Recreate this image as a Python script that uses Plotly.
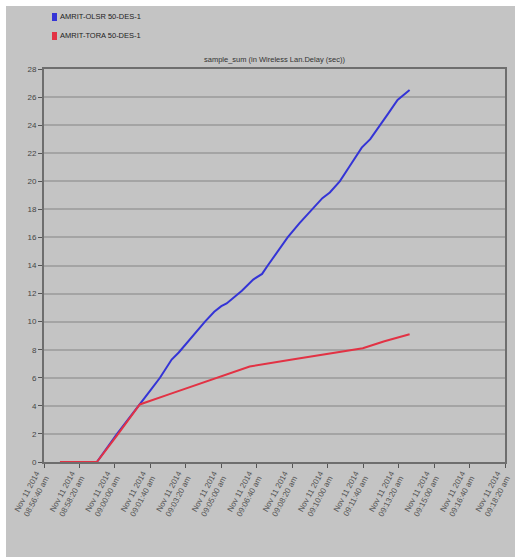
import datetime as dt
import plotly.graph_objects as go

# Simulation start and x-axis tick schedule (every 100 s)
start = dt.datetime(2014, 11, 11, 8, 56, 40)
tick_offsets = [0, 100, 200, 300, 400, 500, 600, 700, 800, 900, 1000, 1100, 1200, 1300]

# AMRIT-OLSR 50-DES-1: seconds after start, cumulative delay (sec)
olsr_t = [45, 149, 206, 268, 300, 327, 360, 380, 400, 430, 454, 480, 500, 515, 540,
          558, 590, 615, 631, 660, 687, 720, 755, 769, 785, 806, 834, 860, 885, 896,
          920, 946, 970, 997, 1031]
olsr_v = [0.0, 0.0, 2.0, 4.0, 5.1, 6.0, 7.3, 7.8, 8.4, 9.3, 10.0, 10.7, 11.1, 11.3, 11.8,
          12.2, 13.0, 13.4, 14.0, 15.0, 16.0, 17.0, 18.0, 18.4, 18.8, 19.2, 20.0, 21.0, 22.0, 22.4,
          23.0, 23.9, 24.8, 25.8, 26.5]

# AMRIT-TORA 50-DES-1
tora_t = [45, 149, 206, 270, 350, 450, 580, 700, 800, 899, 960, 1031]
tora_v = [0.0, 0.0, 1.9, 4.1, 4.8, 5.65, 6.8, 7.3, 7.7, 8.1, 8.6, 9.1]

series_names = ["AMRIT-OLSR 50-DES-1", "AMRIT-TORA 50-DES-1"]
series_colors = ["#3434d6", "#e23244"]
title_text = "sample_sum (in Wireless Lan.Delay (sec))"
y_ticks = list(range(0, 29, 2))


def to_time(offsets):
    return [start + dt.timedelta(seconds=s) for s in offsets]


def tick_label(d):
    return d.strftime("%b %d %Y").replace(" 0", " ") + "<br>" + d.strftime("%I:%M:%S").lstrip() + " am"


tick_times = to_time(tick_offsets)
tick_text = [tick_label(d) for d in tick_times]

font_family = "Liberation Sans Narrow, Arial Narrow, Liberation Sans, sans-serif"

fig = go.Figure()
fig.add_trace(go.Scatter(x=to_time(olsr_t), y=olsr_v, mode="lines", name=series_names[0],
                         line=dict(color=series_colors[0], width=2), showlegend=False))
fig.add_trace(go.Scatter(x=to_time(tora_t), y=tora_v, mode="lines", name=series_names[1],
                         line=dict(color=series_colors[1], width=2), showlegend=False))

W, H = 517, 560
ml, mr, mt, mb = 44, 12, 69, 98
pw, ph = W - ml - mr, H - mt - mb


def px(x):
    return (x - ml) / pw


def py(y):
    return (H - mb - y) / ph


shapes = [
    # grey window panel behind the chart
    dict(type="rect", xref="paper", yref="paper", x0=px(6), x1=px(515), y0=py(557), y1=py(6),
         fillcolor="#c4c4c4", line=dict(width=0), layer="below"),
]
annotations = [
    dict(text=title_text, xref="paper", yref="paper", x=0.5, y=py(66), xanchor="center",
         yanchor="bottom", showarrow=False, font=dict(family=font_family, size=7.5, color="#333")),
]
# legend swatches and labels
for i, (name, col) in enumerate(zip(series_names, series_colors)):
    yc = 17 + 19 * i
    shapes.append(dict(type="rect", xref="paper", yref="paper", x0=px(52), x1=px(57),
                       y0=py(yc + 4), y1=py(yc - 4), fillcolor=col, line=dict(width=0)))
    annotations.append(dict(text=name, xref="paper", yref="paper", x=px(58), y=py(yc),
                            xanchor="left", yanchor="middle", showarrow=False,
                            font=dict(family=font_family, size=7.5, color="#222")))

fig.update_layout(
    width=W, height=H,
    margin=dict(l=ml, r=mr, t=mt, b=mb, autoexpand=False),
    paper_bgcolor="white",
    plot_bgcolor="#efefef",
    shapes=shapes,
    annotations=annotations,
    showlegend=False,
    font=dict(family=font_family, size=8, color="#444"),
)
fig.update_xaxes(
    range=[tick_times[0], tick_times[-1]],
    tickvals=tick_times, ticktext=tick_text, tickangle=-62,
    ticklabeloverflow="allow", automargin=False, ticklabelshift=-3,
    showgrid=False, showline=True, linecolor="#6e6e6e", linewidth=2, mirror=True,
    ticks="outside", ticklen=4, tickcolor="#555",
    tickfont=dict(family=font_family, size=8, color="#555"),
)
fig.update_yaxes(
    range=[0, 28], tickvals=y_ticks, automargin=False,
    showgrid=True, gridcolor="#a4a4a4", gridwidth=1.5, zeroline=False,
    showline=True, linecolor="#6e6e6e", linewidth=2, mirror=True,
    ticks="outside", ticklen=4, tickcolor="#555",
    tickfont=dict(family=font_family, size=8, color="#444"),
)

fig.write_html("out.html")
